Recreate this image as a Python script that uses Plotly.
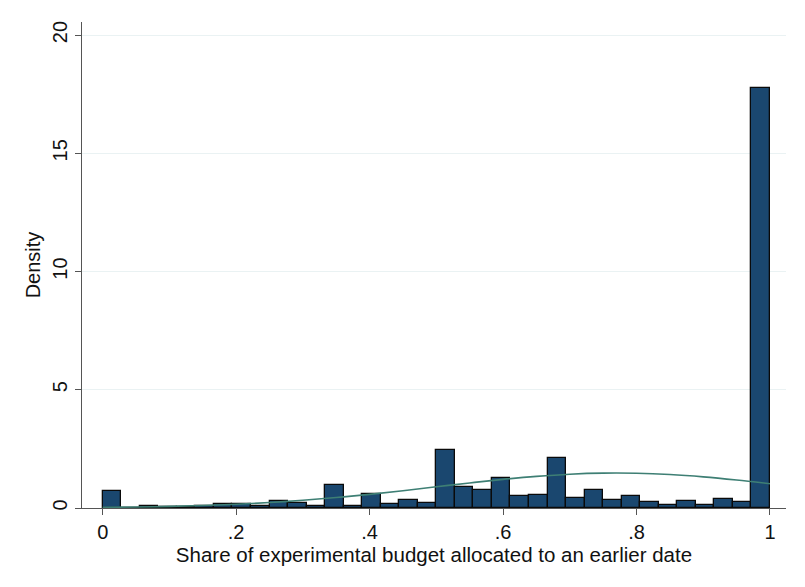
import plotly.graph_objects as go

# Histogram: 36 equal-width bins on [0, 1], density heights
bin_width = 1 / 36
bin_left = [i / 36 for i in range(36)]
density = [0.72, 0.02, 0.08, 0.03, 0.05, 0.08, 0.17, 0.15, 0.10, 0.30,
           0.21, 0.10, 0.97, 0.10, 0.59, 0.16, 0.34, 0.22, 2.45, 0.90,
           0.76, 1.25, 0.51, 0.55, 2.10, 0.44, 0.76, 0.34, 0.52, 0.27,
           0.13, 0.30, 0.13, 0.37, 0.25, 17.78]

# Overlaid normal density curve
curve_x = [0.0, 0.05, 0.1, 0.15, 0.2, 0.25, 0.3, 0.35, 0.4, 0.45, 0.5,
           0.55, 0.6, 0.65, 0.7, 0.75, 0.8, 0.85, 0.9, 0.95, 1.0]
curve_y = [0.025, 0.042, 0.068, 0.106, 0.159, 0.231, 0.325, 0.441, 0.578,
           0.732, 0.896, 1.060, 1.212, 1.338, 1.429, 1.473, 1.468, 1.414,
           1.316, 1.183, 1.028]

x_ticks = [0, 0.2, 0.4, 0.6, 0.8, 1]
x_tick_text = ["0", ".2", ".4", ".6", ".8", "1"]
y_ticks = [0, 5, 10, 15, 20]

bar_centers = [b + bin_width / 2 for b in bin_left]

fig = go.Figure()
fig.add_trace(go.Bar(
    x=bar_centers, y=density, width=bin_width,
    marker=dict(color="#1a476f", line=dict(color="#0a0a0a", width=1.3)),
    showlegend=False,
))
fig.add_trace(go.Scatter(
    x=curve_x, y=curve_y, mode="lines",
    line=dict(color="#3e7f74", width=1.6, shape="spline"),
    showlegend=False,
))

font = "Liberation Sans, Arial, sans-serif"
fig.update_layout(
    width=805, height=587,
    margin=dict(l=82, r=19, t=22, b=79),
    paper_bgcolor="white", plot_bgcolor="white",
    font=dict(family=font, size=20, color="#111111"),
    bargap=0,
    xaxis=dict(
        range=[-0.031, 1.024],
        tickvals=x_ticks, ticktext=x_tick_text,
        ticks="outside", ticklen=6, tickcolor="#555555",
        showline=True, linecolor="#555555", linewidth=1.2,
        showgrid=False, zeroline=False,
        tickfont=dict(size=20),
        title=dict(text="Share of experimental budget allocated to an earlier date",
                   font=dict(size=20.5), standoff=0),
    ),
    yaxis=dict(
        range=[0, 20.55],
        tickvals=y_ticks,
        ticks="outside", ticklen=6, tickcolor="#555555",
        tickangle=-90,
        showline=True, linecolor="#555555", linewidth=1.2,
        showgrid=True, gridcolor="#eaf2f3", gridwidth=1,
        zeroline=False,
        tickfont=dict(size=20),
        title=dict(text="Density", font=dict(size=20), standoff=2),
    ),
)

fig.write_html("out.html")
